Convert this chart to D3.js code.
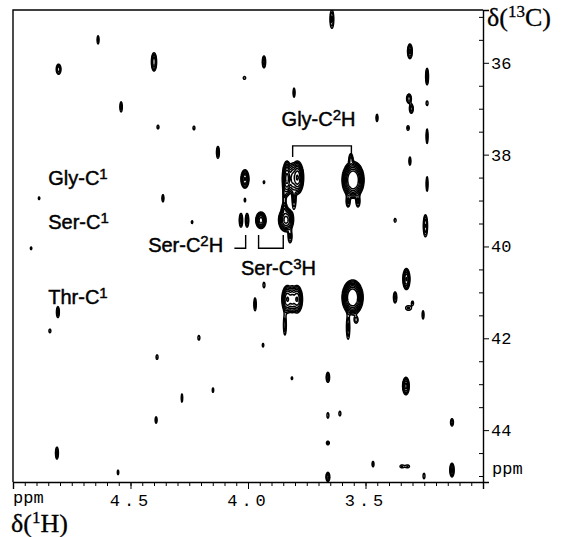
<!DOCTYPE html>
<html>
<head>
<meta charset="utf-8">
<script src="https://cdn.jsdelivr.net/npm/d3@7"></script>
<style>
  body { margin: 0; background: #fff; }
  svg { display: block; }
  .lbl { font-family: "Liberation Sans", Arial, sans-serif; font-size: 20px; fill: #000; stroke: #000; stroke-width: 0.45px; }
  .plt { font-family: "Liberation Mono", monospace; font-size: 17px; fill: #000; }
  .dlt { font-family: "Liberation Serif", "Times New Roman", serif; font-size: 26px; fill: #000; stroke: #000; stroke-width: 0.3px; }
</style>
</head>
<body>
<svg id="chart" width="561" height="537"></svg>
<script>
// peaks: [1H ppm, 13C ppm, half width 1H (ppm), half height 13C (ppm), intensity]
const strongPeaks = [
  [3.553, 38.55, 0.047, 0.40, 40],  // Gly C2H
  [3.562, 38.10, 0.008, 0.12, 2.5],
  [3.574, 39.02, 0.008, 0.12, 2.5],
  [3.532, 39.02, 0.008, 0.12, 2.5],
  [3.834, 38.52, 0.020, 0.38, 14],
  [3.812, 38.52, 0.012, 0.30, 6],
  [3.790, 38.50, 0.027, 0.36, 18],
  [3.845, 38.95, 0.006, 0.22, 2],
  [3.804, 38.98, 0.008, 0.20, 2.5],
  [4.013, 38.53, 0.017, 0.20, 8],   // Gly-C1
  [4.030, 39.43, 0.007, 0.15, 3],   // Ser-C1 row
  [4.004, 39.43, 0.007, 0.15, 3],
  [3.945, 39.43, 0.022, 0.18, 10],
  [3.838, 39.42, 0.032, 0.26, 14],
  [3.845, 39.18, 0.010, 0.10, 3],
  [3.821, 39.78, 0.008, 0.14, 2.5],
  [3.832, 41.15, 0.024, 0.30, 12],  // Thr-C1 row
  [3.812, 41.15, 0.012, 0.26, 6],
  [3.792, 41.15, 0.024, 0.30, 12],
  [3.843, 41.71, 0.006, 0.22, 2],
  [3.555, 41.11, 0.045, 0.38, 40],
  [3.574, 41.76, 0.007, 0.26, 2.5],
  [3.540, 41.60, 0.008, 0.07, 2]
];

const mediumPeaks = [
  [3.326, 40.71, 0.015, 0.23, 8],
  [3.328, 43.04, 0.014, 0.19, 6],
  [3.374, 41.11, 0.007, 0.12, 2.5],
  [3.660, 42.85, 0.007, 0.11, 3],
  [3.132, 44.87, 0.009, 0.15, 4],
  [3.660, 45.02, 0.008, 0.10, 3],
  [3.311, 35.75, 0.010, 0.16, 4],
  [3.238, 36.30, 0.006, 0.18, 3],
  [3.315, 36.78, 0.010, 0.10, 3],
  [3.305, 37.00, 0.008, 0.10, 3],
  [3.245, 39.55, 0.009, 0.24, 3.5],
  [3.643, 35.05, 0.008, 0.20, 2.5],
  [4.806, 36.14, 0.010, 0.11, 3],
  [4.400, 35.98, 0.011, 0.20, 5],
  [3.932, 35.98, 0.007, 0.13, 3],
  [4.128, 37.95, 0.006, 0.13, 2.5],
  [4.809, 41.43, 0.006, 0.12, 2.5],
  [4.813, 44.50, 0.006, 0.13, 2.5]
];

const weakPeaks = [
  [3.317, 41.34, 0.012, 0.05, 1.6],
  [3.300, 41.23, 0.004, 0.04, 1.5],
  [3.255, 41.49, 0.004, 0.09, 1.6],
  [3.132, 43.83, 0.006, 0.08, 2],
  [3.660, 44.28, 0.006, 0.04, 1.6],
  [3.468, 44.74, 0.004, 0.06, 1.6],
  [3.345, 44.79, 0.008, 0.03, 1.5],
  [3.321, 44.79, 0.008, 0.03, 1.5],
  [3.251, 45.00, 0.004, 0.06, 1.5],
  [3.660, 43.68, 0.004, 0.06, 1.5],
  [3.609, 43.64, 0.004, 0.05, 1.5],
  [3.813, 42.87, 0.003, 0.03, 1.4],
  [3.238, 36.88, 0.004, 0.05, 1.5],
  [3.804, 36.65, 0.004, 0.10, 1.8],
  [3.451, 37.20, 0.004, 0.08, 1.8],
  [3.319, 37.42, 0.005, 0.05, 1.6],
  [3.238, 37.60, 0.004, 0.16, 2],
  [3.311, 38.14, 0.004, 0.09, 1.8],
  [3.238, 38.64, 0.004, 0.16, 1.8],
  [3.374, 39.43, 0.004, 0.04, 1.5],
  [4.638, 35.50, 0.004, 0.09, 1.7],
  [4.015, 36.33, 0.005, 0.03, 1.4],
  [4.540, 36.96, 0.005, 0.11, 2],
  [4.383, 37.40, 0.004, 0.04, 1.5],
  [4.230, 37.42, 0.004, 0.04, 1.5],
  [3.932, 38.60, 0.003, 0.03, 1.4],
  [4.889, 38.95, 0.003, 0.03, 1.4],
  [4.362, 38.95, 0.004, 0.08, 1.8],
  [4.013, 38.99, 0.003, 0.04, 1.5],
  [4.238, 39.47, 0.003, 0.03, 1.4],
  [4.923, 40.04, 0.003, 0.03, 1.4],
  [4.843, 41.84, 0.004, 0.04, 1.5],
  [4.387, 42.41, 0.004, 0.05, 1.5],
  [4.209, 41.99, 0.004, 0.05, 1.5],
  [3.970, 41.26, 0.005, 0.14, 2],
  [3.932, 40.84, 0.004, 0.06, 1.5],
  [3.936, 42.15, 0.003, 0.04, 1.5],
  [4.281, 43.30, 0.003, 0.09, 1.6],
  [4.149, 43.13, 0.003, 0.05, 1.5],
  [4.391, 43.78, 0.004, 0.07, 1.7],
  [4.553, 44.92, 0.003, 0.05, 1.5]
];

// contour levels (relative intensity)
const levels = [1, 1.5, 2.25, 3.4, 5, 7.6, 11.4, 17];

// axis ticks
const hMajor = [4.5, 4.0, 3.5];
const hMinor = d3.range(0, 41).map(i => +(5.0 - i * 0.05).toFixed(2));
const cMajor = [36, 38, 40, 42, 44];
const cMinor = d3.range(0, 21).map(i => 35 + i * 0.5);

// annotations: label parts [text, superscript, tail]
const rowLabels = [
  { parts: ["Gly-C", "1", ""], h: 4.85, c: 38.66 },
  { parts: ["Ser-C", "1", ""], h: 4.85, c: 39.62 },
  { parts: ["Thr-C", "1", ""], h: 4.85, c: 41.25 },
  { parts: ["Ser-C", "2", "H"], h: 4.425, c: 40.12 },
  { parts: ["Ser-C", "3", "H"], h: 4.03, c: 40.62 },
  { parts: ["Gly-C", "2", "H"], h: 3.857, c: 37.38 }
];
// brackets: [h1, h2, c top, c bottom, shape]
const brackets = [
  { h1: 3.81, h2: 3.56, c1: 37.81, c2: 38.05, shape: "top" },
  { h1: 4.058, h2: 4.01, c1: 39.75, c2: 40.04, shape: "hook" },
  { h1: 3.955, h2: 3.85, c1: 39.75, c2: 40.04, shape: "bottom" }
];

const svg = d3.select("#chart");
const L = 13, T = 10, R = 483, B = 482;

const x = d3.scaleLinear().domain([5.0, 3.0]).range([L, R]);
const y = d3.scaleLinear().domain([34.85, 45.13]).range([T, B]);

// build intensity grid (half-pixel resolution)
const res = 2;
const nx = (R - L) * res, ny = (B - T) * res;
const grid = new Float64Array(nx * ny);
strongPeaks.concat(mediumPeaks, weakPeaks).forEach(([h, c, wh, wc, amp]) => {
  const cx = (x(h) - L) * res, cy = (y(c) - T) * res;
  const k = Math.sqrt(2 * Math.log(amp));
  const sx = Math.abs(x(h + wh) - x(h)) * res / k;
  const sy = Math.abs(y(c + wc) - y(c)) * res / k;
  const i0 = Math.max(0, Math.floor(cx - 4 * sx)), i1 = Math.min(nx - 1, Math.ceil(cx + 4 * sx));
  const j0 = Math.max(0, Math.floor(cy - 4 * sy)), j1 = Math.min(ny - 1, Math.ceil(cy + 4 * sy));
  for (let j = j0; j <= j1; j++) {
    const dy = (j + 0.5 - cy) / sy;
    for (let i = i0; i <= i1; i++) {
      const dx = (i + 0.5 - cx) / sx;
      grid[j * nx + i] += amp * Math.exp(-0.5 * (dx * dx + dy * dy));
    }
  }
});

const contours = d3.contours().size([nx, ny]).thresholds(levels)(grid);
const path = d3.geoPath(d3.geoIdentity().scale(1 / res).translate([L, T]));

svg.append("clipPath").attr("id", "plotclip")
  .append("rect").attr("x", L).attr("y", T).attr("width", R - L).attr("height", B - T);

svg.append("g")
  .attr("clip-path", "url(#plotclip)")
  .selectAll("path")
  .data(contours)
  .join("path")
  .attr("d", path)
  .attr("fill", "none")
  .attr("stroke", "#000")
  .attr("stroke-width", 1.5)
  .attr("stroke-linejoin", "round");

// frame
svg.append("path")
  .attr("d", `M${L},${B}V${T}H${R}`)
  .attr("fill", "none").attr("stroke", "#000").attr("stroke-width", 1.4);

// bottom axis
const xMinorAxis = d3.axisBottom(x).tickValues(hMinor).tickSize(4).tickFormat("");
const xMajorAxis = d3.axisBottom(x).tickValues(hMajor).tickSize(7).tickPadding(5)
  .tickFormat(d3.format(".1f"));
svg.append("g").attr("transform", `translate(0,${B})`).call(xMinorAxis)
  .call(g => g.select(".domain").remove());
const gx = svg.append("g").attr("transform", `translate(0,${B})`).call(xMajorAxis);
gx.select(".domain").attr("stroke-width", 1.4);
gx.selectAll("text").attr("class", "plt").attr("font-family", null).attr("font-size", null)
  .style("letter-spacing", "4px");

// right axis
const yMinorAxis = d3.axisRight(y).tickValues(cMinor.filter(v => !cMajor.includes(v))).tickSize(-4).tickFormat("");
const yMajorAxis = d3.axisRight(y).tickValues(cMajor).tickSize(6).tickPadding(2);
svg.append("g").attr("transform", `translate(${R},0)`).call(yMinorAxis)
  .call(g => g.select(".domain").remove());
const gy = svg.append("g").attr("transform", `translate(${R},0)`).call(yMajorAxis);
gy.select(".domain").attr("stroke-width", 1.4);
gy.selectAll("text").attr("class", "plt").attr("font-family", null).attr("font-size", null);

svg.append("text").attr("class", "plt").attr("x", L).attr("y", 503).text("ppm");
svg.append("text").attr("class", "plt").attr("x", R + 9).attr("y", 474).text("ppm");

// axis titles
const t1 = svg.append("text").attr("class", "dlt").attr("x", 11).attr("y", 532);
t1.append("tspan").text("δ(");
t1.append("tspan").attr("font-size", 17).attr("dy", -9).text("1");
t1.append("tspan").attr("dy", 9).text("H)");

const t2 = svg.append("text").attr("class", "dlt").attr("x", R + 4).attr("y", 26);
t2.append("tspan").text("δ(");
t2.append("tspan").attr("font-size", 17).attr("dy", -9).text("13");
t2.append("tspan").attr("dy", 9).text("C)");

// peak labels
rowLabels.forEach(d => {
  const t = svg.append("text").attr("class", "lbl").attr("x", x(d.h)).attr("y", y(d.c));
  t.append("tspan").text(d.parts[0]);
  t.append("tspan").attr("font-size", 15).attr("dy", -6).text(d.parts[1]);
  if (d.parts[2]) t.append("tspan").attr("dy", 6).text(d.parts[2]);
});

brackets.forEach(b => {
  const X1 = x(b.h1), X2 = x(b.h2), Y1 = y(b.c1), Y2 = y(b.c2);
  let d;
  if (b.shape === "top") d = `M${X1},${Y2}V${Y1}H${X2}V${Y2}`;
  else if (b.shape === "bottom") d = `M${X1},${Y1}V${Y2}H${X2}V${Y1}`;
  else d = `M${X1},${Y2}H${X2}V${Y1}`;
  svg.append("path").attr("d", d).attr("fill", "none")
    .attr("stroke", "#000").attr("stroke-width", 1.4);
});
</script>
</body>
</html>
